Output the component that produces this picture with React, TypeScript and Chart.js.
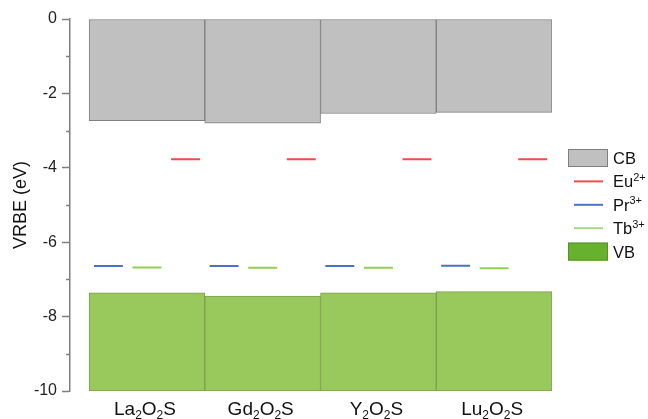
import React, { useEffect, useRef } from 'react';
import { Chart, registerables } from 'chart.js';
Chart.register(...registerables);

const categories = ['La₂O₂S', 'Gd₂O₂S', 'Y₂O₂S', 'Lu₂O₂S'];
const cbBottom = [-2.73, -2.8, -2.54, -2.51];
const vbTop = [-7.36, -7.45, -7.36, -7.33];
const vbBottom = [-10, -10, -10, -10];
const cbTop = [0, 0, 0, 0];
const eu2 = [-3.77, -3.77, -3.77, -3.77];
const pr3 = [-6.64, -6.64, -6.64, -6.63];
const tb3 = [-6.68, -6.69, -6.69, -6.7];
const yMin = -10;
const yMax = 0;
const yStep = 2;
const minorTicks = [-1, -3, -5, -7, -9];
const legendLabels = ['CB', 'Eu²⁺', 'Pr³⁺', 'Tb³⁺', 'VB'];

const FONT = "'Liberation Sans', Arial, sans-serif";
const CB_FILL = '#c0c0c0';
const CB_BORDER = '#7f7f7f';
const VB_FILL = '#99c95c';
const VB_BORDER = '#7c9f4c';
const VB_LEGEND = '#66b22e';
const EU_COLOR = '#f04a4a';
const PR_COLOR = '#4a72c4';
const TB_COLOR = '#92d050';
const TB_LEGEND = '#a8d68a';

const SUB = '₀₁₂₃₄₅₆₇₈₉';
const SUP = '⁰¹²³⁴⁵⁶⁷⁸⁹⁺⁻';
const SUPN = '0123456789+-';

type Run = { t: string; k: 'n' | 'sub' | 'sup' };
function toRuns(s: string): Run[] {
  const out: Run[] = [];
  for (const ch of s) {
    let k: Run['k'] = 'n';
    let t = ch;
    const si = SUB.indexOf(ch);
    const pi = SUP.indexOf(ch);
    if (si >= 0) { k = 'sub'; t = String(si); }
    else if (pi >= 0) { k = 'sup'; t = SUPN[pi]; }
    const last = out[out.length - 1];
    if (last && last.k === k) last.t += t; else out.push({ t, k });
  }
  return out;
}

function drawRich(ctx: CanvasRenderingContext2D, s: string, x: number, y: number, size: number, small: number, align: 'left' | 'center', color: string) {
  const runs = toRuns(s);
  const fontFor = (k: string) => `${k === 'n' ? size : small}px ${FONT}`;
  let total = 0;
  for (const r of runs) { ctx.font = fontFor(r.k); total += ctx.measureText(r.t).width; }
  let cx = align === 'center' ? x - total / 2 : x;
  ctx.fillStyle = color;
  ctx.textAlign = 'left';
  ctx.textBaseline = 'alphabetic';
  for (const r of runs) {
    ctx.font = fontFor(r.k);
    const dy = r.k === 'sub' ? size * 0.22 : r.k === 'sup' ? -size * 0.4 : 0;
    ctx.fillText(r.t, cx, y + dy);
    cx += ctx.measureText(r.t).width;
  }
}

const extrasPlugin = {
  id: 'extras',
  afterDraw(chart: any) {
    const ctx: CanvasRenderingContext2D = chart.ctx;
    const xs = chart.scales.x;
    const ys = chart.scales.y;
    const area = chart.chartArea;
    ctx.save();
    ctx.strokeStyle = CB_BORDER;
    ctx.lineWidth = 1.5;
    for (const v of minorTicks) {
      const py = Math.round(ys.getPixelForValue(v)) + 0.5;
      ctx.beginPath();
      ctx.moveTo(area.left - 4, py);
      ctx.lineTo(area.left, py);
      ctx.stroke();
    }
    categories.forEach((c, i) => {
      const px = xs.getPixelForValue(i + 1);
      drawRich(ctx, c, px - 2, area.bottom + 24, 19, 12, 'center', '#111');
    });
    const lx = area.right + 16;
    const tx = lx + 45;
    const y0 = 158;
    const gap = 23.4;
    legendLabels.forEach((lab, i) => {
      const cy = y0 + i * gap;
      if (i === 0 || i === 4) {
        ctx.fillStyle = i === 0 ? CB_FILL : VB_LEGEND;
        ctx.fillRect(lx, cy - 9, 40, 18);
        ctx.strokeStyle = i === 0 ? CB_BORDER : '#5a8f2c';
        ctx.lineWidth = 1;
        ctx.strokeRect(lx + 0.5, cy - 8.5, 39, 17);
      } else {
        ctx.strokeStyle = i === 1 ? EU_COLOR : i === 2 ? PR_COLOR : TB_LEGEND;
        ctx.lineWidth = 2;
        ctx.beginPath();
        ctx.moveTo(lx + 6, cy);
        ctx.lineTo(lx + 35, cy);
        ctx.stroke();
      }
      drawRich(ctx, lab, tx, cy + 6, 16.5, 11, 'left', '#111');
    });
    ctx.restore();
  },
};

function levelData(vals: number[], offset: number) {
  const out: { x: number; y: number | null }[] = [];
  vals.forEach((v, i) => {
    const c = i + 1 + offset;
    out.push({ x: c - 0.125, y: v });
    out.push({ x: c + 0.125, y: v });
    out.push({ x: c + 0.2, y: null });
  });
  return out;
}

export default function App() {
  const ref = useRef<HTMLCanvasElement>(null);
  useEffect(() => {
    if (!ref.current) return;
    const chart = new Chart(ref.current, {
      type: 'bar',
      data: {
        datasets: [
          {
            type: 'bar',
            label: 'CB',
            data: categories.map((_, i) => ({ x: i + 1, y: [cbTop[i], cbBottom[i]] })) as any,
            backgroundColor: CB_FILL,
            borderColor: CB_BORDER,
            borderWidth: 1,
            borderSkipped: false,
            grouped: false,
            barPercentage: 1,
            categoryPercentage: 1,
          },
          {
            type: 'bar',
            label: 'VB',
            data: categories.map((_, i) => ({ x: i + 1, y: [vbBottom[i], vbTop[i]] })) as any,
            backgroundColor: VB_FILL,
            borderColor: VB_BORDER,
            borderWidth: 1,
            borderSkipped: false,
            grouped: false,
            barPercentage: 1,
            categoryPercentage: 1,
          },
          {
            type: 'line',
            label: 'Eu2+',
            data: levelData(eu2, 1 / 3) as any,
            borderColor: EU_COLOR,
            borderWidth: 2,
            pointRadius: 0,
            spanGaps: false,
          },
          {
            type: 'line',
            label: 'Pr3+',
            data: levelData(pr3, -1 / 3) as any,
            borderColor: PR_COLOR,
            borderWidth: 2,
            pointRadius: 0,
            spanGaps: false,
          },
          {
            type: 'line',
            label: 'Tb3+',
            data: levelData(tb3, 0) as any,
            borderColor: TB_COLOR,
            borderWidth: 2,
            pointRadius: 0,
            spanGaps: false,
          },
        ] as any,
      },
      options: {
        animation: false,
        responsive: true,
        maintainAspectRatio: false,
        layout: { padding: { top: 19, right: 96, left: 0, bottom: 0 } },
        plugins: { legend: { display: false }, tooltip: { enabled: false } },
        scales: {
          x: {
            type: 'linear',
            min: 0.335,
            max: 4.5,
            offset: false,
            stacked: false,
            afterBuildTicks: (s: any) => { s.ticks = categories.map((_, i) => ({ value: i + 1 })); },
            afterFit: (s: any) => { s.height = 28; },
            ticks: { display: false },
            grid: { display: false },
            border: { display: false },
          },
          y: {
            type: 'linear',
            min: yMin,
            max: yMax,
            stacked: false,
            afterFit: (s: any) => { s.width = 70; },
            ticks: {
              stepSize: yStep,
              color: '#222',
              font: { family: FONT, size: 16 },
              padding: 5,
            },
            grid: {
              display: true,
              drawOnChartArea: false,
              drawTicks: true,
              tickLength: 8,
              tickColor: CB_BORDER,
              tickWidth: 1.5,
            },
            border: { display: true, color: CB_BORDER, width: 1.5 },
            title: {
              display: true,
              text: 'VRBE (eV)',
              color: '#111',
              font: { family: FONT, size: 18 },
              padding: { top: 10, bottom: 0 },
            },
          },
        },
      } as any,
      plugins: [extrasPlugin],
    });
    return () => chart.destroy();
  }, []);
  return (
    <div style={{ position: 'fixed', left: 0, top: 0, width: 648, height: 419, background: '#fff' }}>
      <canvas ref={ref} />
    </div>
  );
}
